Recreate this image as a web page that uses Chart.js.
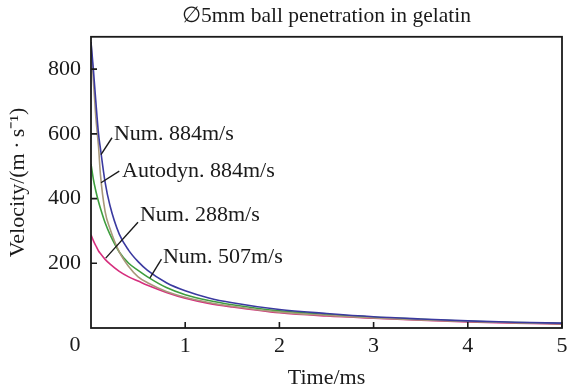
<!DOCTYPE html>
<html>
<head>
<meta charset="utf-8">
<script src="https://cdn.jsdelivr.net/npm/chart.js@4.4.1/dist/chart.umd.min.js"></script>
<style>
  body { margin: 0; background: #fff; }
  #wrap { width: 568px; height: 391px; }
</style>
</head>
<body>
<div id="wrap"><canvas id="chart" width="568" height="391"></canvas></div>
<script>
// time in ms, velocity in m/s
var times = [0, 0.025, 0.05, 0.08, 0.1, 0.15, 0.2, 0.3, 0.4, 0.5, 0.6, 0.8, 1.0, 1.25, 1.5, 2.0, 2.5, 3.0, 3.5, 4.0, 4.5, 5.0];
var num884 = [884, 800, 705, 600, 555, 450, 380, 290, 240, 205, 178, 140, 115, 93, 78, 57, 45, 35, 28, 22, 18, 15];
var autodyn884 = [884, 765, 655, 560, 475, 360, 308, 235, 190, 158, 140, 113, 95, 79, 67, 49, 39, 31, 25, 20, 16, 13];
var num507 = [507, 460, 425, 390, 370, 325, 290, 235, 200, 178, 158, 125, 103, 85, 72, 53, 42, 33, 27, 21, 17, 14];
var num288 = [288, 270, 255, 238, 230, 212, 198, 175, 158, 145, 132, 110, 92, 76, 65, 47, 37, 30, 24, 19, 15, 12];

var yTicks = [200, 400, 600, 800];
var xTicks = [1, 2, 3, 4, 5];

// callout labels: text start point and leader line, in data units
var callouts = [
    { text: 'Num. 884m/s',     at: [0.244, 598], line: [[0.223, 588], [0.106, 536]] },
    { text: 'Autodyn. 884m/s', at: [0.329, 484], line: [[0.300, 485], [0.106, 449]] },
    { text: 'Num. 288m/s',     at: [0.520, 349], line: [[0.499, 327], [0.156, 216]] },
    { text: 'Num. 507m/s',     at: [0.764, 219], line: [[0.748, 213], [0.626, 155]] }
];

var serif = "'Liberation Serif', 'Times New Roman', serif";

function toPoints(ys) {
    var pts = [];
    for (var i = 0; i < times.length; i++) {
        pts.push({x: times[i], y: ys[i]});
    }
    return pts;
}

function series(label, ys, color) {
    return {
        label: label,
        data: toPoints(ys),
        borderColor: color,
        borderWidth: 1.6,
        pointRadius: 0,
        fill: false,
        cubicInterpolationMode: 'monotone'
    };
}

// frame, inward ticks, corner zero and callouts
var decorations = {
    id: 'decorations',
    afterDatasetsDraw: function(chart) {
        var ctx = chart.ctx;
        var a = chart.chartArea;
        var xs = chart.scales.x, ys = chart.scales.y;
        ctx.save();
        ctx.strokeStyle = '#1a1a1a';
        ctx.lineWidth = 1.8;
        ctx.strokeRect(a.left, a.top, a.right - a.left, a.bottom - a.top);

        ctx.lineWidth = 1.6;
        ctx.beginPath();
        yTicks.forEach(function(v) {
            var py = ys.getPixelForValue(v);
            ctx.moveTo(a.left, py);
            ctx.lineTo(a.left + 6, py);
        });
        xTicks.forEach(function(v) {
            var px = xs.getPixelForValue(v);
            ctx.moveTo(px, a.bottom);
            ctx.lineTo(px, a.bottom - 6);
        });
        ctx.stroke();

        ctx.fillStyle = '#1a1a1a';
        ctx.font = '22px ' + serif;
        ctx.textAlign = 'center';
        ctx.textBaseline = 'middle';
        ctx.fillText('0', xs.getPixelForValue(0) - 16, a.bottom + 17);

        ctx.textAlign = 'left';
        ctx.lineWidth = 1.4;
        callouts.forEach(function(c) {
            ctx.beginPath();
            ctx.moveTo(xs.getPixelForValue(c.line[0][0]), ys.getPixelForValue(c.line[0][1]));
            ctx.lineTo(xs.getPixelForValue(c.line[1][0]), ys.getPixelForValue(c.line[1][1]));
            ctx.stroke();
            ctx.fillText(c.text, xs.getPixelForValue(c.at[0]), ys.getPixelForValue(c.at[1]));
        });
        ctx.restore();
    }
};

new Chart(document.getElementById('chart'), {
    type: 'line',
    data: {
        datasets: [
            series('Num. 884m/s', num884, '#3b3aa0'),
            series('Autodyn. 884m/s', autodyn884, '#a8987a'),
            series('Num. 507m/s', num507, '#3e9e3e'),
            series('Num. 288m/s', num288, '#d62f7e')
        ]
    },
    options: {
        responsive: false,
        animation: false,
        layout: { padding: { left: 0, right: 0, top: 0, bottom: 0 } },
        plugins: {
            legend: { display: false },
            tooltip: { enabled: false },
            title: {
                display: true,
                text: '\u22055mm ball penetration in gelatin',
                fullSize: false,
                color: '#1a1a1a',
                font: { family: serif, size: 21.5, weight: 'normal' },
                padding: { top: 3, bottom: 8 }
            }
        },
        scales: {
            x: {
                type: 'linear',
                min: 0,
                max: 5,
                afterFit: function(s) {
                    s.height = 63;
                    s.paddingLeft = 0;
                    s.paddingRight = 6;
                },
                grid: { display: false, drawTicks: false },
                border: { display: false },
                ticks: {
                    stepSize: 1,
                    padding: 5,
                    color: '#1a1a1a',
                    font: { family: serif, size: 22 },
                    callback: function(v) { return v === 0 ? '' : v; }
                },
                title: {
                    display: true,
                    text: 'Time/ms',
                    color: '#1a1a1a',
                    font: { family: serif, size: 22 },
                    padding: { top: 0, bottom: 0 }
                }
            },
            y: {
                min: 0,
                max: 900,
                afterFit: function(s) { s.width = 91; },
                afterBuildTicks: function(s) {
                    s.ticks = yTicks.map(function(v) { return {value: v}; });
                },
                grid: { display: false, drawTicks: false },
                border: { display: false },
                ticks: {
                    padding: 10,
                    color: '#1a1a1a',
                    font: { family: serif, size: 22 }
                },
                title: {
                    display: true,
                    text: 'Velocity/(m\u2009\u00b7\u2009s\u207b\u00b9)',
                    color: '#1a1a1a',
                    font: { family: serif, size: 22 },
                    padding: { top: 5, bottom: 0 }
                }
            }
        }
    },
    plugins: [decorations]
});
</script>
</body>
</html>
